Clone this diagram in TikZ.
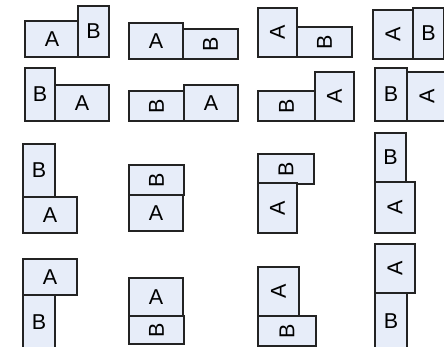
\documentclass[tikz,border=0pt]{standalone}
\usepackage{fontspec}
\usepackage{graphicx}
\setmainfont{Liberation Sans}
\definecolor{boxfill}{RGB}{231,237,249}
\definecolor{boxline}{RGB}{35,35,35}
\tikzset{
  bx/.style={draw=boxline, fill=boxfill, line width=1.5pt, inner sep=0pt, outer sep=0pt,
    anchor=north west, font=\fontsize{21.5}{21.5}\selectfont, text=black},
  aH/.style={bx, minimum width=54pt, minimum height=36pt},
  bV/.style={bx, minimum width=31pt, minimum height=52pt},
  aV/.style={bx, minimum width=40pt, minimum height=49pt},
  bH/.style={bx, minimum width=56pt, minimum height=30pt}
}
\newcommand\rA{\rotatebox{90}{A}}
\newcommand\rB{\rotatebox{90}{B}}
\begin{document}
\begin{tikzpicture}[x=1pt,y=-1pt]
\useasboundingbox (0,0) rectangle (444,347);
% row 1
\node[aH] (a1) at (25,21) {A};
\node[bV, minimum height=51pt] (b1) at (78,6) {B};
\node[aH] (a2) at (129,23) {A};
\node[bH, minimum width=55pt] (b2) at (183,29) {\rB};
\node[aV, minimum width=39pt] (a3) at (258,8) {\rA};
\node[bH, minimum width=55pt] (b3) at (297,27) {\rB};
\node[aV] (a4) at (373,10) {\rA};
\node[bV, minimum height=51pt] (b4) at (413,8) {B};
% row 2
\node[bV, minimum width=30pt, minimum height=53pt] (b5) at (25,68) {B};
\node[aH] (a5) at (55,85) {A};
\node[bH, minimum width=55pt] (b6) at (129,91) {\rB};
\node[aH] (a6) at (184,85) {A};
\node[bH, minimum width=57pt] (b7) at (258,91) {\rB};
\node[aV, minimum width=39pt] (a7) at (315,72) {\rA};
\node[bV, minimum width=32pt, minimum height=53pt] (b8) at (375,68) {B};
\node[aV] (a8) at (407,72) {\rA};
% row 3
\node[bV, minimum width=32pt, minimum height=53pt] (b9) at (23,144) {B};
\node[aH] (a9) at (23,197) {A};
\node[bH, minimum width=55pt] (b10) at (129,165) {\rB};
\node[aH] (a10) at (129,195) {A};
\node[bH] (b11) at (258,154) {\rB};
\node[aV, minimum width=39pt, minimum height=50pt] (a11) at (258,183) {\rA};
\node[bV, minimum height=49pt] (b12) at (375,133) {B};
\node[aV, minimum height=51pt] (a12) at (375,182) {\rA};
% row 4
\node[aH] (a13) at (23,259) {A};
\node[bV, minimum width=32pt, minimum height=54pt] (b13) at (23,295) {B};
\node[aH, minimum height=38pt] (a14) at (129,278) {A};
\node[bH, minimum width=55pt, minimum height=28pt] (b14) at (129,316) {\rB};
\node[aV, minimum width=41pt] (a15) at (258,267) {\rA};
\node[bH, minimum width=58pt] (b15) at (258,316) {\rB};
\node[aV] (a16) at (375,244) {\rA};
\node[bV, minimum width=32pt, minimum height=56pt] (b16) at (375,293) {B};
\end{tikzpicture}
\end{document}
